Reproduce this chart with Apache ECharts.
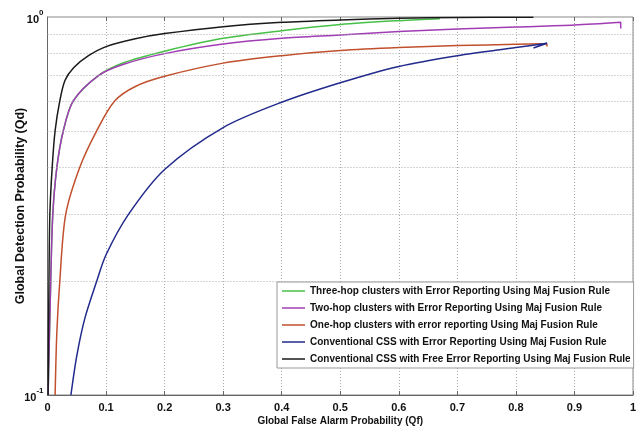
<!DOCTYPE html>
<html>
<head>
<meta charset="utf-8">
<script src="https://cdn.jsdelivr.net/npm/echarts@6/dist/echarts.min.js"></script>
<style>html,body{margin:0;padding:0;background:#fff}#c{width:639px;height:429px}</style>
</head>
<body>
<div id="c"></div>
<script>
// ---- data ----
var seriesNames = [
  'Three-hop clusters with Error Reporting Using Maj Fusion Rule',
  'Two-hop clusters with Error Reporting Using Maj Fusion Rule',
  'One-hop clusters with error reporting Using Maj Fusion Rule',
  'Conventional CSS with Error Reporting Using Maj Fusion Rule',
  'Conventional CSS with Free Error Reporting Using Maj Fusion Rule'
];
var xTicks = [0, 0.1, 0.2, 0.3, 0.4, 0.5, 0.6, 0.7, 0.8, 0.9, 1];
var yGridValues = [0.2, 0.3, 0.4, 0.5, 0.6, 0.7, 0.8, 0.9];

var threeHopQf = [0.001, 0.0055, 0.009, 0.016, 0.027, 0.044, 0.087, 0.13, 0.2, 0.3, 0.4, 0.5, 0.6, 0.67];
var threeHopQd = [0.1, 0.2, 0.3, 0.4, 0.5, 0.6, 0.7, 0.757, 0.812, 0.878, 0.92, 0.955, 0.978, 0.99];

var twoHopQf = [0.001, 0.0055, 0.009, 0.016, 0.027, 0.044, 0.087, 0.13, 0.2, 0.3, 0.4, 0.5, 0.6, 0.7, 0.8, 0.9, 0.979, 0.979];
var twoHopQd = [0.1, 0.2, 0.3, 0.4, 0.5, 0.6, 0.7, 0.75, 0.8, 0.848, 0.878, 0.896, 0.915, 0.93, 0.941, 0.952, 0.968, 0.933];

var oneHopQf = [0.013, 0.016, 0.021, 0.031, 0.055, 0.084, 0.115, 0.15, 0.2, 0.3, 0.4, 0.5, 0.6, 0.7, 0.8, 0.853, 0.853];
var oneHopQd = [0.1, 0.147, 0.2, 0.3, 0.4, 0.5, 0.6, 0.655, 0.697, 0.755, 0.79, 0.815, 0.83, 0.84, 0.847, 0.85, 0.836];

var convErrQf = [0.04, 0.05, 0.064, 0.084, 0.1, 0.138, 0.2, 0.3, 0.4, 0.5, 0.6, 0.7, 0.8, 0.853, 0.83];
var convErrQd = [0.1, 0.127, 0.16, 0.2, 0.235, 0.3, 0.395, 0.51, 0.595, 0.67, 0.74, 0.79, 0.83, 0.852, 0.828];

var convFreeQf = [0.001, 0.0025, 0.004, 0.008, 0.013, 0.021, 0.03, 0.045, 0.07, 0.1, 0.15, 0.2, 0.3, 0.4, 0.5, 0.6, 0.7, 0.83];
var convFreeQd = [0.1, 0.2, 0.3, 0.4, 0.5, 0.6, 0.68, 0.735, 0.79, 0.835, 0.876, 0.904, 0.943, 0.968, 0.982, 0.992, 0.997, 0.999];

var colors = ['#46c046', '#a03cb4', '#c0502e', '#222a8c', '#1a1a1a'];

function pairs(xs, ys) { return xs.map(function (x, i) { return [x, ys[i]]; }); }
var allData = [
  pairs(threeHopQf, threeHopQd),
  pairs(twoHopQf, twoHopQd),
  pairs(oneHopQf, oneHopQd),
  pairs(convErrQf, convErrQd),
  pairs(convFreeQf, convFreeQd)
];

var font = '"Liberation Sans", Arial, sans-serif';

var series = allData.map(function (d, i) {
  return {
    name: seriesNames[i],
    type: 'line',
    data: d,
    showSymbol: false,
    smooth: 0.3,
    lineStyle: { width: 1.5, color: colors[i] },
    itemStyle: { color: colors[i] },
    animation: false,
    z: 3 + i
  };
});
series.unshift({
  type: 'line',
  data: [],
  silent: true,
  animation: false,
  markLine: {
    silent: true,
    symbol: ['none', 'none'],
    label: { show: false },
    lineStyle: { type: [1, 2], color: '#aaaaaa', width: 1 },
    data: yGridValues.map(function (v) { return { yAxis: v }; }),
    animation: false
  }
});

var chart = echarts.init(document.getElementById('c'), null, { renderer: 'canvas' });
chart.setOption({
  backgroundColor: '#ffffff',
  animation: false,
  grid: { left: 47.5, right: 6, top: 17, bottom: 34, containLabel: false, outerBoundsMode: 'none', show: true, borderColor: '#888888', borderWidth: 1, backgroundColor: '#ffffff' },
  legend: {
    data: seriesNames.map(function (n, i) { return { name: n, itemStyle: { color: colors[i] } }; }),
    orient: 'vertical',
    left: 277,
    top: 282,
    icon: 'rect',
    itemWidth: 23,
    itemHeight: 1.5,
    itemGap: 3,
    padding: [2, 3, 2, 5],
    backgroundColor: '#ffffff',
    borderColor: '#999999',
    borderWidth: 1,
    textStyle: { fontFamily: font, fontWeight: 'bold', fontSize: 10, color: '#111', lineHeight: 14 }
  },
  xAxis: [{
    type: 'value',
    min: 0, max: 1, interval: 0.1,
    name: 'Global False Alarm Probability (Qf)',
    nameLocation: 'middle',
    nameGap: 21,
    nameMoveOverlap: false,
    nameTextStyle: { fontFamily: font, fontWeight: 'bold', fontSize: 10, color: '#111' },
    axisLine: { show: true, lineStyle: { color: '#666', width: 1 } },
    axisTick: { show: true, inside: true, length: 4, lineStyle: { color: '#666' } },
    axisLabel: {
      fontFamily: font, fontWeight: 'bold', fontSize: 11, color: '#111', margin: 7,
      formatter: function (v) { var k = Math.round(v * 10); return k === 0 ? '0' : (k === 10 ? '1' : (k / 10).toFixed(1)); }
    },
    splitLine: { show: true, lineStyle: { type: [1, 2], color: '#aaaaaa', width: 1 } }
  }, {
    type: 'value', position: 'top', min: 0, max: 1, interval: 0.1,
    axisLine: { show: false },
    axisTick: { show: true, inside: true, length: 4, lineStyle: { color: '#666' } },
    axisLabel: { show: false },
    splitLine: { show: false }
  }],
  yAxis: {
    type: 'log',
    logBase: 10,
    min: 0.1, max: 1,
    name: 'Global Detection Probability (Qd)',
    nameLocation: 'middle',
    nameGap: 20,
    nameMoveOverlap: false,
    nameTextStyle: { fontFamily: font, fontWeight: 'bold', fontSize: 12.5, color: '#111' },
    axisLine: { show: true, lineStyle: { color: '#666', width: 1 } },
    axisTick: { show: false },
    splitLine: { show: false },
    axisLabel: {
      showMinLabel: true, showMaxLabel: true, margin: 4,
      formatter: function (v) { var e = Math.round(Math.log(v) / Math.LN10); return '{b|10}{s|' + e + '}'; },
      rich: {
        b: { fontFamily: font, fontWeight: 'bold', fontSize: 11, color: '#111', lineHeight: 16, verticalAlign: 'bottom' },
        s: { fontFamily: font, fontWeight: 'bold', fontSize: 8, color: '#111', lineHeight: 16, verticalAlign: 'top' }
      }
    }
  },
  series: series
});
</script>
</body>
</html>
